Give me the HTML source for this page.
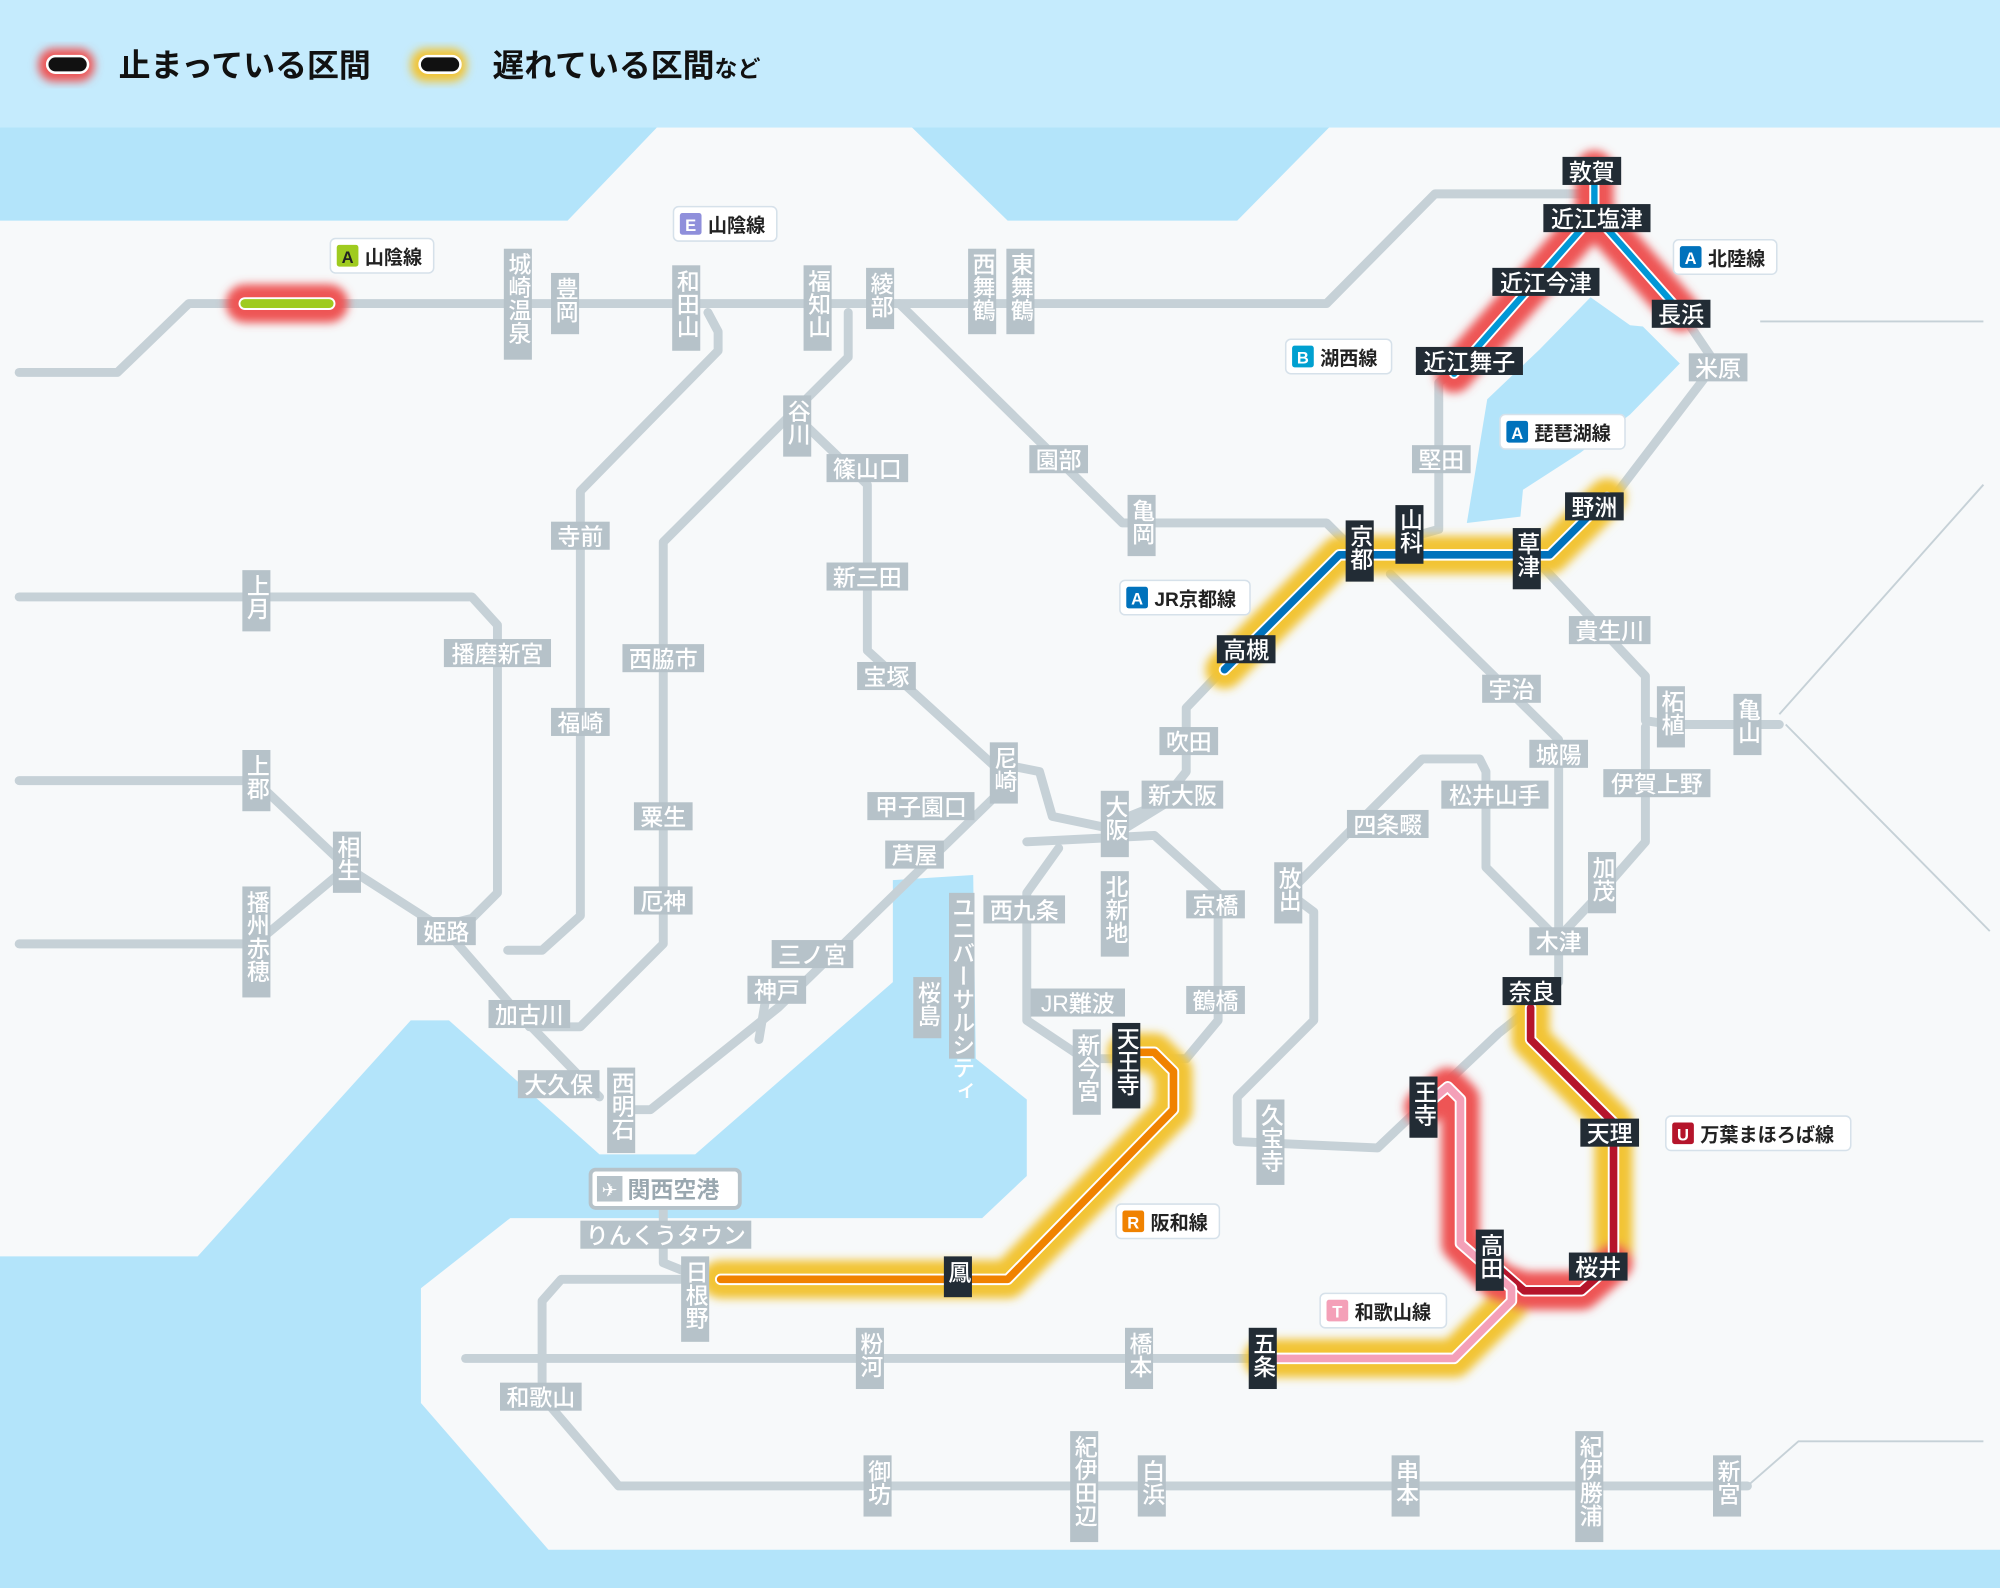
<!DOCTYPE html>
<html><head><meta charset="utf-8"><style>
html,body{margin:0;padding:0;background:#f7f9fa;}
svg{display:block;}
text{font-family:"Liberation Sans","Noto Sans CJK JP",sans-serif;}
.g{fill:#b6c2c9}.d{fill:#222c35}
.lt{fill:#fff;font-size:18px;font-weight:500}
.v{writing-mode:vertical-rl;text-orientation:upright;}
.tag{fill:#fff;stroke:#d6e1ea;stroke-width:1.2}
.tt{fill:#222;font-size:15px;font-weight:700}
.ln{fill:none;stroke:#c6d1d7;stroke-width:7;stroke-linejoin:round;stroke-linecap:round}
.thin{fill:none;stroke:#c6d1d7;stroke-width:1.5}
</style></head><body>
<svg width="2000" height="1588" viewBox="0 0 1568 1245" xmlns="http://www.w3.org/2000/svg">
<defs>
<filter id="bl" x="-20%" y="-20%" width="140%" height="140%"><feGaussianBlur stdDeviation="3.5"/></filter>
</defs>
<rect width="1568" height="1245" fill="#f7f9fa"/>
<!-- sea -->
<g fill="#b3e4fa">
<polygon points="0,100 515,100 445,173 0,173"/>
<polygon points="715,100 1042,100 970,173 790,173"/>
<polygon points="0,985 155,985 322,800 352,800 470,905 545,905 700,770 700,690 763,686 765,830 805,862 805,922 770,955 400,955 330,1010 330,1100 430,1215 1568,1215 1568,1245 0,1245"/>
<polygon points="1247,233 1278,255 1288,256 1317,285 1278,325 1239,355 1194,384 1192,405 1150,410 1166,313 1207,274"/>
</g>
<rect width="1568" height="100" fill="#c5ebfd"/>
<!-- legend -->
<rect x="30" y="38" width="44" height="26" rx="12" fill="#ee5555" filter="url(#bl)"/>
<rect x="37" y="44" width="32" height="13" rx="6.5" fill="#111" stroke="#fff" stroke-width="2"/>
<text x="93" y="60" font-size="25" font-weight="700" fill="#111">止まっている区間</text>
<rect x="322" y="38" width="44" height="26" rx="12" fill="#f2c434" filter="url(#bl)"/>
<rect x="329" y="44" width="32" height="13" rx="6.5" fill="#111" stroke="#fff" stroke-width="2"/>
<text x="386" y="60" font-size="25" font-weight="700" fill="#111">遅れている区間<tspan font-size="18">など</tspan></text>

<!-- thin lines -->
<path class="thin" d="M1380,252 L1555,252 M1395,560 L1555,380 M1400,568 L1560,730 M1370,1165 L1410,1130 L1555,1130"/>
<!-- gray lines -->
<g class="ln">
<path d="M15,292 L92,292 L148,238 L1040,238 L1125,152 L1245,152"/>
<path d="M555,245 L563,260 L563,275 L455,385 L455,718 L425,745 L398,745"/>
<path d="M665,245 L665,280 L520,425 L520,740 L455,805 L415,805"/>
<path d="M628,330 L680,380 L680,510 L790,610"/>
<path d="M705,238 L880,410 L1040,410 L1065,435"/>
<path d="M1090,450 L1222,580 L1222,770"/>
<path d="M1110,420 L1128,415 L1128,300 L1150,282"/>
<path d="M1318,245 L1345,285 L1265,390"/>
<path d="M1210,445 L1290,530 L1290,565 L1310,568 L1395,568"/>
<path d="M1290,570 L1290,660 L1255,700 L1222,735"/>
<path d="M975,508 L930,555 L930,605 L910,630 L873,645"/>
<path d="M1010,700 L1115,595 L1160,595 L1165,605 L1165,680 L1215,730"/>
<path d="M1010,700 L1030,715 L1030,800 L970,860 L970,895 L1080,900 L1175,810 L1200,790"/>
<path d="M805,660 L905,655 L955,700 L955,800 L930,830 L850,830 L805,800 L805,700 L830,665"/>
<path d="M790,600 L815,605 L825,640 L873,650"/>
<path d="M873,655 L930,620"/>
<path d="M790,615 L610,790 L510,870 L490,870"/>
<path d="M470,860 L405,793 L350,730"/>
<path d="M15,612 L200,612 L272,680 L350,730"/>
<path d="M15,740 L200,740 L272,680"/>
<path d="M15,468 L370,468 L390,490 L390,700 L370,720 L350,725"/>
<path d="M600,785 L595,815"/>
<path d="M520,930 L520,990 L545,1000"/>
<path d="M545,1003 L440,1003 L425,1020 L425,1095"/>
<path d="M365,1065 L990,1065"/>
<path d="M425,1095 L485,1165 L1370,1165"/>
</g>

<!-- glows -->
<g filter="url(#bl)" fill="none" stroke-linecap="round" stroke-linejoin="round">
<path d="M192,238 L258,238" stroke="#ee5555" stroke-width="30"/>
<path d="M1140,293 L1250,168 L1250,133 M1250,168 L1318,245" stroke="#ee5555" stroke-width="30"/>
<path d="M960,525 L1050,435 L1215,435 L1260,390" stroke="#f2c434" stroke-width="30"/>
<path d="M883,825 L905,825 L920,840 L920,870 L790,1003 L565,1003" stroke="#f2c434" stroke-width="30"/>
<path d="M1200,790 L1200,815 L1265,880 L1265,990" stroke="#f2c434" stroke-width="30"/>
<path d="M1185,1010 L1185,1020 L1140,1065 L990,1065" stroke="#f2c434" stroke-width="30"/>
<path d="M1116,868 L1135,852 L1145,862 L1145,975 L1175,1005 L1195,1012 L1240,1012 L1265,990" stroke="#ee5555" stroke-width="30"/>
</g>
<!-- colored lines -->
<g fill="none" stroke-linejoin="round" stroke-linecap="round">
<path d="M192,238 L258,238" stroke="#fff" stroke-width="10"/><path d="M192,238 L258,238" stroke="#9fcb1f" stroke-width="7"/>
<path d="M1140,293 L1250,168 L1250,133 M1250,168 L1318,245" stroke="#fff" stroke-width="8"/>
<path d="M1140,293 L1250,168 L1250,133 M1250,168 L1318,245" stroke="#0097d6" stroke-width="5"/>
<path d="M960,525 L1050,435 L1215,435 L1260,390" stroke="#fff" stroke-width="9"/>
<path d="M960,525 L1050,435 L1215,435 L1260,390" stroke="#0072bc" stroke-width="6"/>
<path d="M883,825 L905,825 L920,840 L920,870 L790,1003 L565,1003" stroke="#fff" stroke-width="9"/>
<path d="M883,825 L905,825 L920,840 L920,870 L790,1003 L565,1003" stroke="#f08200" stroke-width="6"/>
<path d="M1200,790 L1200,815 L1265,880 L1265,990 L1240,1012 L1195,1012 L1170,990" stroke="#fff" stroke-width="9"/>
<path d="M1200,790 L1200,815 L1265,880 L1265,990 L1240,1012 L1195,1012 L1170,990" stroke="#b5152b" stroke-width="6"/>
<path d="M1116,868 L1135,852 L1145,862 L1145,975 L1185,1010 L1185,1020 L1140,1065 L990,1065" stroke="#fff" stroke-width="9"/>
<path d="M1116,868 L1135,852 L1145,862 L1145,975 L1185,1010 L1185,1020 L1140,1065 L990,1065" stroke="#f4a0b8" stroke-width="6"/>
</g>

<!-- vertical gray labels -->
<g>
<rect class="g" x="395" y="195" width="22" height="87"/><text class="lt v" x="406" y="198">城崎温泉</text>
<rect class="g" x="432" y="214" width="22" height="48"/><text class="lt v" x="443" y="217">豊岡</text>
<rect class="g" x="527" y="208" width="22" height="67"/><text class="lt v" x="538" y="211">和田山</text>
<rect class="g" x="630" y="208" width="22" height="67"/><text class="lt v" x="641" y="211">福知山</text>
<rect class="g" x="679" y="210" width="22" height="48"/><text class="lt v" x="690" y="213">綾部</text>
<rect class="g" x="759" y="195" width="22" height="67"/><text class="lt v" x="770" y="198">西舞鶴</text>
<rect class="g" x="789" y="195" width="22" height="67"/><text class="lt v" x="800" y="198">東舞鶴</text>
<rect class="g" x="614" y="310" width="22" height="48"/><text class="lt v" x="625" y="313">谷川</text>
<rect class="g" x="884" y="388" width="22" height="48"/><text class="lt v" x="895" y="391">亀岡</text>
<rect class="g" x="190" y="447" width="22" height="48"/><text class="lt v" x="201" y="450">上月</text>
<rect class="g" x="190" y="588" width="22" height="48"/><text class="lt v" x="201" y="591">上郡</text>
<rect class="g" x="261" y="652" width="22" height="48"/><text class="lt v" x="272" y="655">相生</text>
<rect class="g" x="190" y="695" width="22" height="87"/><text class="lt v" x="201" y="698">播州赤穂</text>
<rect class="g" x="776" y="582" width="22" height="48"/><text class="lt v" x="787" y="585">尼崎</text>
<rect class="g" x="863" y="620" width="22" height="52"/><text class="lt v" x="874" y="623">大阪</text>
<rect class="g" x="863" y="683" width="22" height="67"/><text class="lt v" x="874" y="686">北新地</text>
<rect class="g" x="744" y="700" width="20" height="130"/><text class="lt v" x="754" y="702" font-size="14">ユニバーサルシティ</text>
<rect class="g" x="716" y="766" width="22" height="48"/><text class="lt v" x="727" y="769">桜島</text>
<rect class="g" x="999" y="676" width="22" height="48"/><text class="lt v" x="1010" y="679">放出</text>
<rect class="g" x="841" y="807" width="22" height="67"/><text class="lt v" x="852" y="810">新今宮</text>
<rect class="g" x="985" y="862" width="22" height="67"/><text class="lt v" x="996" y="865">久宝寺</text>
<rect class="g" x="476" y="837" width="22" height="67"/><text class="lt v" x="487" y="840">西明石</text>
<rect class="g" x="534" y="985" width="22" height="67"/><text class="lt v" x="545" y="988">日根野</text>
<rect class="g" x="671" y="1041" width="22" height="48"/><text class="lt v" x="682" y="1044">粉河</text>
<rect class="g" x="882" y="1041" width="22" height="48"/><text class="lt v" x="893" y="1044">橋本</text>
<rect class="g" x="677" y="1141" width="22" height="48"/><text class="lt v" x="688" y="1144">御坊</text>
<rect class="g" x="839" y="1122" width="22" height="87"/><text class="lt v" x="850" y="1125">紀伊田辺</text>
<rect class="g" x="892" y="1141" width="22" height="48"/><text class="lt v" x="903" y="1144">白浜</text>
<rect class="g" x="1091" y="1141" width="22" height="48"/><text class="lt v" x="1102" y="1144">串本</text>
<rect class="g" x="1235" y="1122" width="22" height="87"/><text class="lt v" x="1246" y="1125">紀伊勝浦</text>
<rect class="g" x="1343" y="1141" width="22" height="48"/><text class="lt v" x="1354" y="1144">新宮</text>
<rect class="g" x="1299" y="538" width="22" height="48"/><text class="lt v" x="1310" y="541">柘植</text>
<rect class="g" x="1359" y="544" width="22" height="48"/><text class="lt v" x="1370" y="547">亀山</text>
<rect class="g" x="1245" y="668" width="22" height="48"/><text class="lt v" x="1256" y="671">加茂</text>
</g>
<!-- vertical dark labels -->
<g>
<rect class="d" x="1055" y="408" width="22" height="48"/><text class="lt v" x="1066" y="411">京都</text>
<rect class="d" x="1094" y="396" width="22" height="46"/><text class="lt v" x="1105" y="398">山科</text>
<rect class="d" x="1186" y="414" width="22" height="48"/><text class="lt v" x="1197" y="417">草津</text>
<rect class="d" x="872" y="802" width="22" height="67"/><text class="lt v" x="883" y="805">天王寺</text>
<rect class="d" x="1105" y="844" width="22" height="48"/><text class="lt v" x="1116" y="847">王寺</text>
<rect class="d" x="1157" y="964" width="22" height="48"/><text class="lt v" x="1168" y="967">高田</text>
<rect class="d" x="979" y="1041" width="22" height="48"/><text class="lt v" x="990" y="1044">五条</text>
<rect class="d" x="740" y="985" width="22" height="32"/><text class="lt v" x="751" y="988">鳳</text>
</g>
<!-- horizontal gray labels -->
<g text-anchor="middle">
<rect class="g" x="648" y="356" width="64" height="22"/><text class="lt" x="680" y="374">篠山口</text>
<rect class="g" x="432" y="409" width="46" height="22"/><text class="lt" x="455" y="427">寺前</text>
<rect class="g" x="348" y="501" width="84" height="22"/><text class="lt" x="390" y="519">播磨新宮</text>
<rect class="g" x="488" y="505" width="64" height="22"/><text class="lt" x="520" y="523">西脇市</text>
<rect class="g" x="648" y="441" width="64" height="22"/><text class="lt" x="680" y="459">新三田</text>
<rect class="g" x="672" y="519" width="46" height="22"/><text class="lt" x="695" y="537">宝塚</text>
<rect class="g" x="432" y="555" width="46" height="22"/><text class="lt" x="455" y="573">福崎</text>
<rect class="g" x="497" y="629" width="46" height="22"/><text class="lt" x="520" y="647">粟生</text>
<rect class="g" x="680" y="621" width="84" height="22"/><text class="lt" x="722" y="639">甲子園口</text>
<rect class="g" x="694" y="659" width="46" height="22"/><text class="lt" x="717" y="677">芦屋</text>
<rect class="g" x="497" y="695" width="46" height="22"/><text class="lt" x="520" y="713">厄神</text>
<rect class="g" x="327" y="719" width="46" height="22"/><text class="lt" x="350" y="737">姫路</text>
<rect class="g" x="771" y="702" width="64" height="22"/><text class="lt" x="803" y="720">西九条</text>
<rect class="g" x="930" y="698" width="46" height="22"/><text class="lt" x="953" y="716">京橋</text>
<rect class="g" x="605" y="737" width="64" height="22"/><text class="lt" x="637" y="755">三ノ宮</text>
<rect class="g" x="586" y="765" width="46" height="22"/><text class="lt" x="609" y="783">神戸</text>
<rect class="g" x="383" y="784" width="64" height="22"/><text class="lt" x="415" y="802">加古川</text>
<rect class="g" x="406" y="839" width="64" height="22"/><text class="lt" x="438" y="857">大久保</text>
<rect class="g" x="808" y="775" width="74" height="22"/><text class="lt" x="845" y="793">JR難波</text>
<rect class="g" x="930" y="773" width="46" height="22"/><text class="lt" x="953" y="791">鶴橋</text>
<rect class="g" x="909" y="570" width="46" height="22"/><text class="lt" x="932" y="588">吹田</text>
<rect class="g" x="895" y="612" width="64" height="22"/><text class="lt" x="927" y="630">新大阪</text>
<rect class="g" x="1162" y="529" width="46" height="22"/><text class="lt" x="1185" y="547">宇治</text>
<rect class="g" x="1199" y="580" width="46" height="22"/><text class="lt" x="1222" y="598">城陽</text>
<rect class="g" x="1130" y="612" width="84" height="22"/><text class="lt" x="1172" y="630">松井山手</text>
<rect class="g" x="1056" y="635" width="64" height="22"/><text class="lt" x="1088" y="653">四条畷</text>
<rect class="g" x="1257" y="603" width="84" height="22"/><text class="lt" x="1299" y="621">伊賀上野</text>
<rect class="g" x="1199" y="727" width="46" height="22"/><text class="lt" x="1222" y="745">木津</text>
<rect class="g" x="1230" y="483" width="64" height="22"/><text class="lt" x="1262" y="501">貴生川</text>
<rect class="g" x="1107" y="349" width="46" height="22"/><text class="lt" x="1130" y="367">堅田</text>
<rect class="g" x="1324" y="277" width="46" height="22"/><text class="lt" x="1347" y="295">米原</text>
<rect class="g" x="807" y="349" width="46" height="22"/><text class="lt" x="830" y="367">園部</text>
<rect class="g" x="455" y="957" width="134" height="22"/><text class="lt" x="522" y="975">りんくうタウン</text>
<rect class="g" x="392" y="1084" width="64" height="22"/><text class="lt" x="424" y="1102">和歌山</text>
</g>
<!-- horizontal dark labels -->
<g text-anchor="middle">
<rect class="d" x="1225" y="123" width="46" height="22"/><text class="lt" x="1248" y="141">敦賀</text>
<rect class="d" x="1210" y="160" width="84" height="22"/><text class="lt" x="1252" y="178">近江塩津</text>
<rect class="d" x="1170" y="210" width="84" height="22"/><text class="lt" x="1212" y="228">近江今津</text>
<rect class="d" x="1295" y="235" width="46" height="22"/><text class="lt" x="1318" y="253">長浜</text>
<rect class="d" x="1110" y="272" width="84" height="22"/><text class="lt" x="1152" y="290">近江舞子</text>
<rect class="d" x="1227" y="386" width="46" height="22"/><text class="lt" x="1250" y="404">野洲</text>
<rect class="d" x="954" y="498" width="46" height="22"/><text class="lt" x="977" y="516">高槻</text>
<rect class="d" x="1178" y="766" width="46" height="22"/><text class="lt" x="1201" y="784">奈良</text>
<rect class="d" x="1239" y="877" width="46" height="22"/><text class="lt" x="1262" y="895">天理</text>
<rect class="d" x="1230" y="982" width="46" height="22"/><text class="lt" x="1253" y="1000">桜井</text>
</g>
<!-- line tags -->
<g>
<rect class="tag" x="259" y="187" width="81" height="27" rx="4"/><rect x="264" y="192" width="17" height="17" rx="2" fill="#9fcb1f"/><text x="272.5" y="206" font-size="13" fill="#222" font-weight="700" text-anchor="middle">A</text><text class="tt" x="286" y="207">山陰線</text>
<rect class="tag" x="528" y="162" width="81" height="27" rx="4"/><rect x="533" y="167" width="17" height="17" rx="2" fill="#8f8fdb"/><text x="541.5" y="181" font-size="13" fill="#fff" font-weight="700" text-anchor="middle">E</text><text class="tt" x="555" y="182">山陰線</text>
<rect class="tag" x="1312" y="188" width="81" height="27" rx="4"/><rect x="1317" y="193" width="17" height="17" rx="2" fill="#0072bc"/><text x="1325.5" y="207" font-size="13" fill="#fff" font-weight="700" text-anchor="middle">A</text><text class="tt" x="1339" y="208">北陸線</text>
<rect class="tag" x="1008" y="266" width="83" height="27" rx="4"/><rect x="1013" y="271" width="17" height="17" rx="2" fill="#00a0d0"/><text x="1021.5" y="285" font-size="13" fill="#fff" font-weight="700" text-anchor="middle">B</text><text class="tt" x="1035" y="286">湖西線</text>
<rect class="tag" x="1176" y="325" width="98" height="27" rx="4"/><rect x="1181" y="330" width="17" height="17" rx="2" fill="#0072bc"/><text x="1189.5" y="344" font-size="13" fill="#fff" font-weight="700" text-anchor="middle">A</text><text class="tt" x="1203" y="345">琵琶湖線</text>
<rect class="tag" x="878" y="455" width="102" height="27" rx="4"/><rect x="883" y="460" width="17" height="17" rx="2" fill="#0072bc"/><text x="891.5" y="474" font-size="13" fill="#fff" font-weight="700" text-anchor="middle">A</text><text class="tt" x="905" y="475">JR京都線</text>
<rect class="tag" x="1306" y="875" width="145" height="27" rx="4"/><rect x="1311" y="880" width="17" height="17" rx="2" fill="#b5152b"/><text x="1319.5" y="894" font-size="13" fill="#fff" font-weight="700" text-anchor="middle">U</text><text class="tt" x="1333" y="895">万葉まほろば線</text>
<rect class="tag" x="875" y="944" width="81" height="27" rx="4"/><rect x="880" y="949" width="17" height="17" rx="2" fill="#f08200"/><text x="888.5" y="963" font-size="13" fill="#fff" font-weight="700" text-anchor="middle">R</text><text class="tt" x="902" y="964">阪和線</text>
<rect class="tag" x="1035" y="1014" width="99" height="27" rx="4"/><rect x="1040" y="1019" width="17" height="17" rx="2" fill="#f4a0b8"/><text x="1048.5" y="1033" font-size="13" fill="#fff" font-weight="700" text-anchor="middle">T</text><text class="tt" x="1062" y="1034">和歌山線</text>
<rect x="463" y="917" width="117" height="30" rx="4" fill="#fff" stroke="#b6c2c9" stroke-width="3"/>
<rect x="468" y="922" width="20" height="20" fill="#b6c2c9"/><text x="478" y="938" font-size="15" fill="#fff" text-anchor="middle">✈</text>
<text x="492" y="939" font-size="18" fill="#9aa8b0" font-weight="700">関西空港</text>
</g>
</svg>
</body></html>
